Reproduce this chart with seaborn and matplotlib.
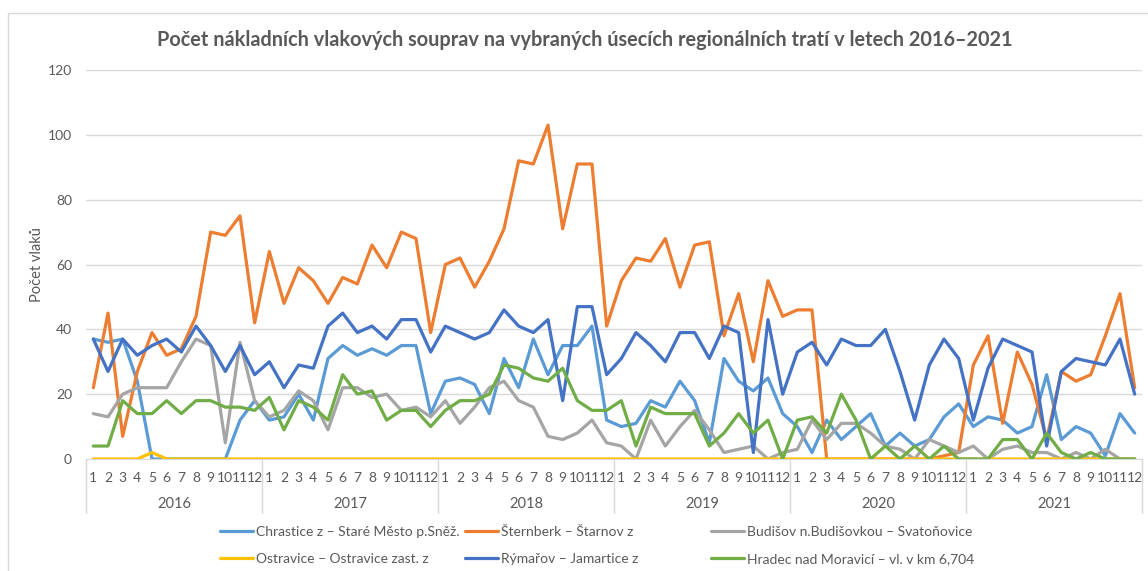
import matplotlib
matplotlib.use('Agg')
import matplotlib.pyplot as plt
import matplotlib.transforms as mtransforms
from matplotlib.patches import Rectangle
import pandas as pd
import seaborn as sns

# osa x: roky a měsíce
years = ['2016', '2017', '2018', '2019', '2020', '2021']
months = [str(m) for m in range(1, 13)]

series_names = [
    'Chrastice z – Staré Město p.Sněž.',
    'Šternberk – Štarnov z',
    'Budišov n.Budišovkou – Svatoňovice',
    'Ostravice – Ostravice zast. z',
    'Rýmařov – Jamartice z',
    'Hradec nad Moravicí – vl. v km 6,704',
]
series_colors = ['#5B9BD5', '#ED7D31', '#A5A5A5', '#FFC000', '#4472C4', '#70AD47']

# hodnoty po měsících 2016..2021
chrastice = [37, 36, 37, 24, 0, 0, 0, 0, 0, 0, 12, 18,
             12, 13, 20, 12, 31, 35, 32, 34, 32, 35, 35, 14,
             24, 25, 23, 14, 31, 22, 37, 26, 35, 35, 41, 12,
             10, 11, 18, 16, 24, 18, 5, 31, 24, 21, 25, 14,
             10, 2, 12, 6, 10, 14, 4, 8, 4, 6, 13, 17,
             10, 13, 12, 8, 10, 26, 6, 10, 8, 1, 14, 8]
sternberk = [22, 45, 7, 27, 39, 32, 34, 44, 70, 69, 75, 42,
             64, 48, 59, 55, 48, 56, 54, 66, 59, 70, 68, 39,
             60, 62, 53, 61, 71, 92, 91, 103, 71, 91, 91, 41,
             55, 62, 61, 68, 53, 66, 67, 38, 51, 30, 55, 44,
             46, 46, 0, 0, 0, 0, 0, 0, 0, 0, 1, 2,
             29, 38, 11, 33, 23, 6, 27, 24, 26, 38, 51, 22]
budisov = [14, 13, 20, 22, 22, 22, 30, 37, 35, 5, 36, 18,
           13, 15, 21, 18, 9, 22, 22, 19, 20, 15, 16, 13,
           18, 11, 16, 22, 24, 18, 16, 7, 6, 8, 12, 5,
           4, 0, 12, 4, 10, 15, 9, 2, 3, 4, 0, 2,
           3, 12, 6, 11, 11, 8, 4, 3, 0, 6, 4, 2,
           4, 0, 3, 4, 2, 2, 0, 2, 0, 3, 0, 0]
ostravice = [0, 0, 0, 0, 2, 0, 0, 0, 0, 0, 0, 0,
             0, 0, 0, 0, 0, 0, 0, 0, 0, 0, 0, 0,
             0, 0, 0, 0, 0, 0, 0, 0, 0, 0, 0, 0,
             0, 0, 0, 0, 0, 0, 0, 0, 0, 0, 0, 0,
             0, 0, 0, 0, 0, 0, 0, 0, 0, 0, 0, 0,
             0, 0, 0, 0, 0, 0, 0, 0, 0, 0, 0, 0]
rymarov = [37, 27, 37, 32, 35, 37, 33, 41, 35, 27, 35, 26,
           30, 22, 29, 28, 41, 45, 39, 41, 37, 43, 43, 33,
           41, 39, 37, 39, 46, 41, 39, 43, 18, 47, 47, 26,
           31, 39, 35, 30, 39, 39, 31, 41, 39, 2, 43, 20,
           33, 36, 29, 37, 35, 35, 40, 27, 12, 29, 37, 31,
           12, 28, 37, 35, 33, 4, 27, 31, 30, 29, 37, 20]
hradec = [4, 4, 18, 14, 14, 18, 14, 18, 18, 16, 16, 15,
          19, 9, 18, 16, 12, 26, 20, 21, 12, 15, 15, 10,
          15, 18, 18, 20, 29, 28, 25, 24, 28, 18, 15, 15,
          18, 4, 16, 14, 14, 14, 4, 8, 14, 8, 12, 0,
          12, 13, 8, 20, 12, 0, 4, 0, 4, 0, 4, 0,
          0, 0, 6, 6, 0, 8, 2, 0, 2, 0, 0, 0]

all_values = [chrastice, sternberk, budisov, ostravice, rymarov, hradec]

rows = []
for name, vals in zip(series_names, all_values):
    for i, v in enumerate(vals):
        rows.append({'idx': i, 'vlaky': v, 'trat': name})
df = pd.DataFrame(rows)

sns.set_style('white')
plt.rcParams['font.family'] = ['Lato', 'DejaVu Sans']
text_col = '#595959'
grid_col = '#D9D9D9'

W, H = 1148, 571
fig = plt.figure(figsize=(W / 100, H / 100), dpi=100)
ax = fig.add_axes([86 / W, 1 - 459 / H, (1142 - 86) / W, (459 - 70) / H])

sns.lineplot(data=df, x='idx', y='vlaky', hue='trat', hue_order=series_names,
             palette=dict(zip(series_names, series_colors)), linewidth=2.3,
             errorbar=None, ax=ax)

handles, labels = ax.get_legend_handles_labels()
ax.get_legend().remove()

ax.set_xlim(-0.5, 71.5)
ax.set_ylim(0, 120)
ax.set_yticks(range(0, 121, 20))
ax.grid(axis='y', color=grid_col, linewidth=1)
ax.set_axisbelow(True)
for s in ['left', 'top', 'right']:
    ax.spines[s].set_visible(False)
ax.spines['bottom'].set_color(grid_col)

ax.set_xticks(range(72))
ax.set_xticklabels(months * len(years))
ax.tick_params(axis='x', length=0, pad=9, labelsize=10, labelcolor=text_col)
ax.tick_params(axis='y', length=0, pad=10, labelsize=10, labelcolor=text_col)
ax.set_xlabel('')
ax.set_ylabel('Počet vlaků', fontsize=10.5, color=text_col)
ax.yaxis.set_label_coords((44 - 86) / 1056, 0.5)

# druhá úroveň osy x: roky + oddělovače
trans = mtransforms.blended_transform_factory(ax.transData, fig.transFigure)
for k, yr in enumerate(years):
    ax.text(12 * k + 5.5, 1 - 504 / H, yr, transform=trans, ha='center', va='center',
            fontsize=10.5, color=text_col)
for k in range(len(years) + 1):
    ax.plot([12 * k - 0.5, 12 * k - 0.5], [1 - 459 / H, 1 - 513 / H], transform=trans,
            color=grid_col, linewidth=1, clip_on=False)

fig.text(585 / W, 1 - 40 / H,
         'Počet nákladních vlakových souprav na vybraných úsecích regionálních tratí v letech 2016–2021',
         ha='center', va='center', fontsize=14.3, fontweight='bold', color=text_col)

# legenda ve třech sloupcích
leg_x = [220, 465, 711]
leg_y = [532, 559]
for k, (h, l) in enumerate(zip(handles, labels)):
    fig.legend([h], [l], loc='center left',
               bbox_to_anchor=(leg_x[k % 3] / W, 1 - leg_y[k // 3] / H),
               frameon=False, fontsize=10, handlelength=2.4, handletextpad=0.2,
               borderpad=0, borderaxespad=0, labelcolor=text_col)

# rámeček grafu
fig.add_artist(Rectangle((8 / W, -0.1), 1.2, 1 - 13 / H + 0.1, transform=fig.transFigure,
                         fill=False, edgecolor=grid_col, linewidth=1))

fig.savefig('out.png', dpi=100)
